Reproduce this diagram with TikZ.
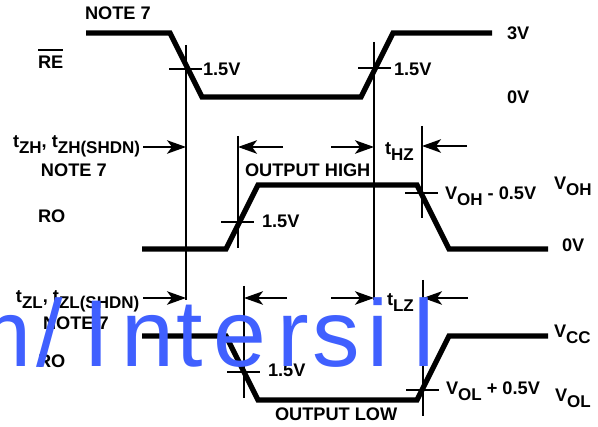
\documentclass[tikz,border=0pt]{standalone}
\usepackage{fontspec}
\setmainfont{Liberation Sans}
\usetikzlibrary{arrows.meta}
\newcommand{\tsub}[1]{\raisebox{-0.28em}{\fontsize{17}{18}\selectfont #1}}
\definecolor{wm}{HTML}{4060FF}
\tikzset{
  wave/.style={line width=5.2pt,miter limit=10},
  guide/.style={line width=1.7pt},
  dimarrow/.style={line width=1.7pt,-{Stealth[length=19pt,width=13.5pt,inset=5pt]}},
  lbl/.style={anchor=base west,inner sep=0pt,outer sep=0pt,font=\fontsize{18.2}{20}\selectfont\bfseries},
  wmark/.style={anchor=base west,inner sep=0pt,outer sep=0pt,text=wm,font=\fontsize{95}{95}\selectfont},
}
\begin{document}
\begin{tikzpicture}[x=1pt,y=-1pt]
\useasboundingbox (0,0) rectangle (598,427);
% waveforms
\draw[wave] (86,33) -- (170,33) -- (202,97) -- (361,97) -- (393,33) -- (492,33);
\draw[wave] (142,249) -- (226,249) -- (258,185) -- (417,185) -- (449,249) -- (548,249);
\draw[wave] (142,336) -- (226,336) -- (258,400) -- (417,400) -- (449,336) -- (548,336);
% guides
\draw[guide] (186,45) -- (186,300);
\draw[guide] (374,42) -- (374,300);
\draw[guide] (238,136) -- (238,248);
\draw[guide] (422,126) -- (422,218);
\draw[guide] (244,286) -- (244,398);
\draw[guide] (423,280) -- (423,416);
\draw[guide] (38,50) -- (63,50);
% ticks
\draw[guide] (169,69) -- (202,69);
\draw[guide] (358,68) -- (391,68);
\draw[guide] (221,222) -- (254,222);
\draw[guide] (227,372) -- (260,372);
\draw[guide] (405,193) -- (438,193);
\draw[guide] (406,390) -- (439,390);
% arrows
\coordinate (a1s) at (143,147); \coordinate (a1e) at (186,147);
\coordinate (a2s) at (283,147); \coordinate (a2e) at (238,147);
\coordinate (a3s) at (331,147); \coordinate (a3e) at (374,147);
\coordinate (a4s) at (467,146); \coordinate (a4e) at (422,146);
\coordinate (b1s) at (143,298); \coordinate (b1e) at (186,298);
\coordinate (b2s) at (287,298); \coordinate (b2e) at (244,298);
\coordinate (b3s) at (331,298); \coordinate (b3e) at (374,298);
\coordinate (b4s) at (468,298); \coordinate (b4e) at (423,298);
\foreach \p in {a1,a2,a3,a4,b1,b2,b3,b4} \draw[dimarrow] (\p s) -- (\p e);
% labels
\node[lbl] (n1) at (85,20) {NOTE 7};
\node[lbl] (re) at (38,69) {RE};
\node[lbl] (v1) at (203,76) {1.5V};
\node[lbl] (v2) at (394,76) {1.5V};
\node[lbl] (v3) at (507,40) {3V};
\node[lbl] (v4) at (507,104) {0V};
\node[lbl] (tzh) at (13,148) {t\tsub{ZH}, t\tsub{ZH(SHDN)}};
\node[lbl] (n2) at (41,177) {NOTE 7};
\node[lbl] (ro1) at (38,223) {RO};
\node[lbl] (oh) at (245,177) {OUTPUT HIGH};
\node[lbl] (thz) at (385,155) {t\tsub{HZ}};
\node[lbl] (voh5) at (445,200) {V\tsub{OH} - 0.5V};
\node[lbl] (voh) at (554,190) {V\tsub{OH}};
\node[lbl] (v5) at (262,228) {1.5V};
\node[lbl] (v6) at (562,252) {0V};
\node[lbl] (tzl) at (16,303) {t\tsub{ZL}, t\tsub{ZL(SHDN)}};
\node[lbl] (n3) at (43,330) {NOTE 7};
\node[lbl] (ro2) at (38,368) {RO};
\node[lbl] (v7) at (268,377) {1.5V};
\node[lbl] (ol) at (275,421) {OUTPUT LOW};
\node[lbl] (tlz) at (387,306) {t\tsub{LZ}};
\node[lbl] (vcc) at (554,338) {V\tsub{CC}};
\node[lbl] (vol5) at (446,395) {V\tsub{OL} + 0.5V};
\node[lbl] (vol) at (555,402) {V\tsub{OL}};
% watermark
\node[wmark] (wm) at (-48,367) {m\kern5pt/\kern20.6pt I\kern11.6pt n\kern2.2pt t\kern10.6pt e\kern11.2pt r\kern3.4pt s\kern7.5pt i\kern25pt l};
\end{tikzpicture}
\end{document}
